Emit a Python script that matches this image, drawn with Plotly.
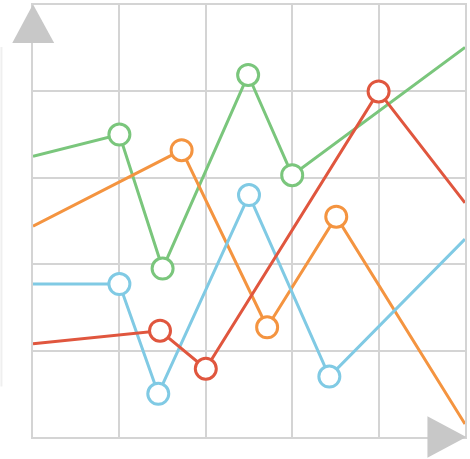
import plotly.graph_objects as go

# Series data (x, y) — first and last points are edge points (no markers)
green_x = [0, 1.0, 1.5, 2.49, 3.0, 5]
green_y = [3.25, 3.5, 1.95, 4.19, 3.03, 4.51]

orange_x = [0, 1.72, 2.71, 3.51, 5]
orange_y = [2.44, 3.32, 1.27, 2.55, 0.15]

blue_x = [0, 1.0, 1.45, 2.5, 3.43, 5]
blue_y = [1.77, 1.77, 0.5, 2.8, 0.7, 2.29]

red_x = [0, 1.47, 2.0, 4.0, 5]
red_y = [1.08, 1.23, 0.79, 4.0, 2.71]

series = [
    ("green", green_x, green_y, "rgb(122,198,124)"),
    ("orange", orange_x, orange_y, "rgb(244,148,64)"),
    ("blue", blue_x, blue_y, "rgb(128,202,228)"),
    ("red", red_x, red_y, "rgb(224,86,62)"),
]

fig = go.Figure()
for name, xs, ys, col in series:
    fig.add_trace(go.Scatter(x=xs, y=ys, mode="lines", line=dict(color=col, width=3),
                             showlegend=False, hoverinfo="skip"))
for name, xs, ys, col in series:
    fig.add_trace(go.Scatter(x=xs[1:-1], y=ys[1:-1], mode="markers",
                             marker=dict(size=21, color="white", line=dict(color=col, width=3)),
                             showlegend=False))

grid = "#d4d4d4"
axis_common = dict(range=[0, 5], dtick=1, showgrid=True, gridcolor=grid, gridwidth=2,
                   showline=True, linecolor=grid, linewidth=2, mirror=True,
                   showticklabels=False, zeroline=False, ticks="", fixedrange=True)
fig.update_xaxes(**axis_common)
fig.update_yaxes(**axis_common)

fig.update_layout(
    width=470, height=459,
    margin=dict(l=33, r=3, t=3, b=22),
    paper_bgcolor="white", plot_bgcolor="white",
    shapes=[
        dict(type="path", xref="paper", yref="paper",
             path="M 0 1.002 L -0.048 0.912 L 0.049 0.912 Z",
             fillcolor="#c8c8c8", line=dict(width=0), layer="above"),
        dict(type="path", xref="paper", yref="paper",
             path="M 1.003 0 L 0.913 0.048 L 0.913 -0.048 Z",
             fillcolor="#c8c8c8", line=dict(width=0), layer="above"),
        dict(type="rect", xref="paper", yref="paper",
             x0=-0.0753, x1=-0.0707, y0=0.117, y1=0.9025,
             fillcolor="#efefef", line=dict(width=0), layer="below"),
    ],
)

fig.write_html("out.html")
